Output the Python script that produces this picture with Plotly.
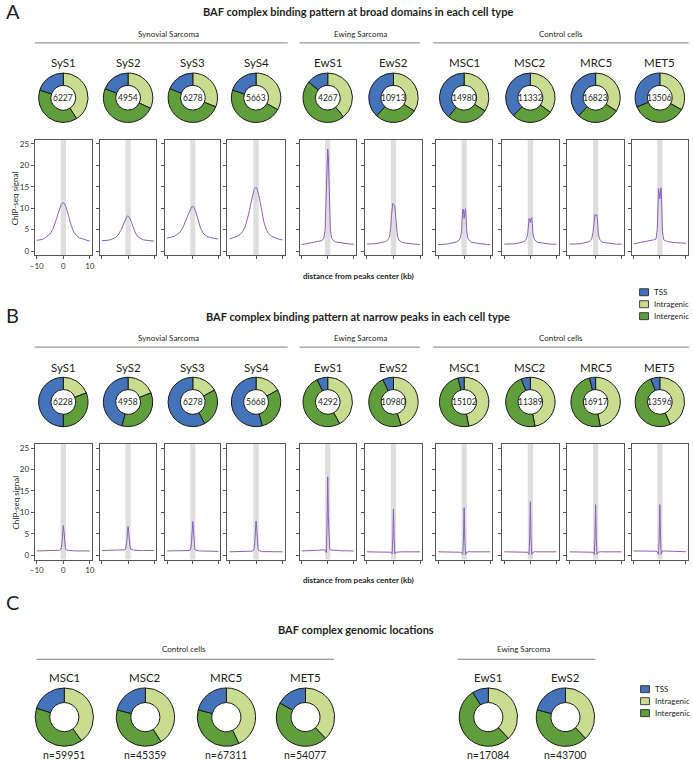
import plotly.graph_objects as go

W, H = 693, 762

# ---------------- data ----------------
cells = ["SyS1", "SyS2", "SyS3", "SyS4", "EwS1", "EwS2", "MSC1", "MSC2", "MRC5", "MET5"]
categories = ["Intragenic", "Intergenic", "TSS"]
legend_order = ["TSS", "Intragenic", "Intergenic"]

# A: broad domains
broad_counts = [6227, 4954, 6278, 5663, 4267, 10913, 14980, 11332, 16823, 13506]
broad_intragenic = [0.41, 0.32, 0.31, 0.33, 0.39, 0.34, 0.34, 0.35, 0.34, 0.33]
broad_intergenic = [0.39, 0.49, 0.50, 0.47, 0.47, 0.28, 0.27, 0.27, 0.28, 0.36]
broad_tss = [0.20, 0.19, 0.19, 0.20, 0.14, 0.38, 0.39, 0.38, 0.38, 0.31]

# B: narrow peaks
narrow_counts = [6228, 4958, 6278, 5668, 4292, 10980, 15102, 11389, 16917, 13596]
narrow_intragenic = [0.19, 0.19, 0.17, 0.17, 0.42, 0.45, 0.47, 0.47, 0.47, 0.43]
narrow_intergenic = [0.31, 0.35, 0.25, 0.29, 0.51, 0.48, 0.49, 0.47, 0.49, 0.51]
narrow_tss = [0.50, 0.46, 0.58, 0.54, 0.07, 0.07, 0.04, 0.06, 0.04, 0.06]

# C: genomic locations
genomic_cells = ["MSC1", "MSC2", "MRC5", "MET5", "EwS1", "EwS2"]
genomic_n = [59951, 45359, 67311, 54077, 17084, 43700]
genomic_intragenic = [0.40, 0.41, 0.43, 0.38, 0.38, 0.38]
genomic_intergenic = [0.40, 0.38, 0.36, 0.45, 0.53, 0.41]
genomic_tss = [0.20, 0.21, 0.21, 0.17, 0.09, 0.21]

# profiles (distance from peak center, kb)
distance_kb = [-10, -9, -8, -7, -6, -5, -4, -3, -2.5, -2, -1.5, -1, -0.75, -0.5, -0.25, 0,
               0.25, 0.5, 0.75, 1, 1.5, 2, 2.5, 3, 4, 5, 6, 7, 8, 9, 10]

broad_sys1 = [2.5, 2.6, 2.7, 3.0, 3.4, 4.0, 5.0, 6.6, 7.6, 8.7, 9.7, 10.5, 10.9, 11.1, 11.3, 11.3,
              11.2, 11.0, 10.7, 10.3, 9.4, 8.2, 7.0, 5.9, 4.4, 3.6, 3.1, 2.9, 2.7, 2.5, 2.3]
broad_sys2 = [2.4, 2.4, 2.5, 2.6, 2.8, 3.1, 3.6, 4.5, 5.1, 5.9, 6.7, 7.4, 7.7, 8.0, 8.2, 8.2,
              8.1, 7.9, 7.6, 7.2, 6.4, 5.5, 4.7, 4.0, 3.2, 2.8, 2.6, 2.5, 2.4, 2.3, 2.3]
broad_sys3 = [3.0, 3.1, 3.3, 3.5, 3.9, 4.4, 5.3, 6.7, 7.5, 8.4, 9.2, 9.8, 10.1, 10.3, 10.4, 10.4,
              10.3, 10.1, 9.8, 9.4, 8.5, 7.4, 6.3, 5.4, 4.2, 3.6, 3.3, 3.1, 3.0, 2.9, 2.8]
broad_sys4 = [2.8, 3.0, 3.2, 3.5, 3.9, 4.6, 5.8, 8.0, 9.4, 11.0, 12.6, 13.8, 14.3, 14.6, 14.9, 14.9,
              14.7, 14.3, 13.8, 13.1, 11.6, 9.8, 8.1, 6.6, 4.8, 3.9, 3.4, 3.1, 2.9, 2.7, 2.6]
broad_ews1 = [1.5, 1.6, 1.7, 1.8, 1.9, 2.0, 2.1, 2.3, 2.4, 2.6, 3.0, 5.0, 9.0, 15.0, 21.5, 23.8,
              22.0, 17.0, 10.0, 5.0, 3.0, 2.5, 2.3, 2.1, 2.0, 1.9, 1.8, 1.7, 1.7, 1.6, 1.6]
broad_ews2 = [1.6, 1.6, 1.7, 1.7, 1.8, 1.9, 2.0, 2.2, 2.4, 2.7, 3.3, 5.5, 8.5, 10.6, 11.1, 10.9,
              10.8, 10.4, 8.8, 6.0, 3.5, 2.6, 2.3, 2.1, 1.9, 1.8, 1.7, 1.7, 1.6, 1.6, 1.5]
broad_msc1 = [1.5, 1.5, 1.6, 1.6, 1.7, 1.8, 1.9, 2.1, 2.3, 2.5, 3.0, 4.5, 7.5, 9.8, 9.6, 7.6,
              9.6, 9.9, 7.8, 4.5, 2.9, 2.4, 2.2, 2.0, 1.9, 1.8, 1.7, 1.6, 1.6, 1.5, 1.5]
broad_msc2 = [1.6, 1.6, 1.6, 1.7, 1.7, 1.8, 1.9, 2.1, 2.2, 2.4, 2.9, 4.2, 6.2, 7.6, 7.2, 6.7,
              7.5, 7.8, 6.4, 4.0, 2.8, 2.3, 2.1, 2.0, 1.9, 1.8, 1.7, 1.7, 1.6, 1.6, 1.6]
broad_mrc5 = [1.6, 1.6, 1.6, 1.7, 1.7, 1.8, 1.9, 2.0, 2.2, 2.4, 2.9, 4.3, 6.5, 8.3, 8.5, 8.2,
              8.4, 8.5, 6.8, 4.2, 2.8, 2.3, 2.1, 2.0, 1.9, 1.8, 1.7, 1.7, 1.6, 1.6, 1.6]
broad_met5 = [1.7, 1.8, 1.9, 2.0, 2.1, 2.2, 2.3, 2.5, 2.6, 2.7, 2.8, 5.0, 10.0, 14.6, 13.5, 12.2,
              13.8, 14.8, 10.0, 4.5, 2.6, 2.4, 2.3, 2.2, 2.1, 2.0, 2.0, 1.9, 1.9, 1.8, 1.8]

narrow_sys1 = [1.0, 1.0, 1.0, 1.0, 1.0, 1.0, 1.0, 1.05, 1.1, 1.1, 1.15, 1.3, 1.8, 3.0, 5.5, 6.9,
               5.5, 3.0, 1.8, 1.3, 1.15, 1.1, 1.1, 1.05, 1.0, 1.0, 1.0, 1.0, 1.0, 1.0, 1.0]
narrow_sys2 = [1.1, 1.1, 1.1, 1.1, 1.1, 1.1, 1.1, 1.15, 1.2, 1.2, 1.25, 1.4, 1.9, 3.0, 5.3, 6.7,
               5.3, 3.0, 1.9, 1.4, 1.25, 1.2, 1.2, 1.15, 1.1, 1.1, 1.1, 1.1, 1.1, 1.1, 1.1]
narrow_sys3 = [1.0, 1.0, 1.0, 1.0, 1.0, 1.0, 1.0, 1.0, 1.05, 1.05, 1.1, 1.2, 1.6, 3.0, 6.0, 7.9,
               6.0, 3.0, 1.6, 1.2, 1.1, 1.05, 1.0, 1.0, 1.0, 0.95, 0.95, 0.9, 0.9, 0.9, 0.9]
narrow_sys4 = [0.8, 0.8, 0.8, 0.8, 0.8, 0.8, 0.8, 0.85, 0.85, 0.9, 0.95, 1.1, 1.5, 3.0, 6.2, 8.0,
               6.2, 3.0, 1.5, 1.1, 0.95, 0.9, 0.85, 0.85, 0.8, 0.8, 0.8, 0.8, 0.8, 0.8, 0.8]
narrow_ews1 = [1.0, 1.0, 1.05, 1.05, 1.1, 1.1, 1.15, 1.2, 1.25, 1.3, 1.3, 1.2, 0.8, 0.6, 8.0, 18.3,
               9.0, 1.8, 1.3, 1.25, 1.2, 1.2, 1.15, 1.1, 1.1, 1.05, 1.05, 1.0, 1.0, 1.0, 1.0]
narrow_ews2 = [0.8, 0.8, 0.8, 0.8, 0.8, 0.8, 0.8, 0.8, 0.8, 0.8, 0.75, 0.7, 0.5, 0.3, 4.0, 10.8,
               4.0, 0.3, 0.5, 0.7, 0.75, 0.8, 0.8, 0.8, 0.8, 0.8, 0.8, 0.8, 0.8, 0.8, 0.8]
narrow_msc1 = [0.8, 0.8, 0.8, 0.8, 0.8, 0.8, 0.8, 0.8, 0.8, 0.85, 0.8, 0.7, 0.4, 0.2, 4.0, 11.1,
               4.0, 0.2, 0.4, 0.7, 0.8, 0.85, 0.8, 0.8, 0.8, 0.8, 0.8, 0.8, 0.8, 0.8, 0.8]
narrow_msc2 = [0.8, 0.8, 0.8, 0.8, 0.8, 0.8, 0.8, 0.8, 0.8, 0.85, 0.8, 0.7, 0.4, 0.2, 4.5, 12.5,
               4.5, 0.2, 0.4, 0.7, 0.8, 0.85, 0.8, 0.8, 0.8, 0.8, 0.8, 0.8, 0.8, 0.8, 0.8]
narrow_mrc5 = [0.8, 0.8, 0.8, 0.8, 0.8, 0.8, 0.8, 0.8, 0.8, 0.85, 0.8, 0.7, 0.4, 0.2, 4.2, 11.8,
               4.2, 0.2, 0.4, 0.7, 0.8, 0.85, 0.8, 0.8, 0.8, 0.8, 0.8, 0.8, 0.8, 0.8, 0.8]
narrow_met5 = [1.0, 1.0, 1.0, 1.0, 1.0, 1.0, 1.0, 1.0, 1.0, 1.0, 0.95, 0.8, 0.4, 0.2, 4.2, 11.8,
               4.2, 0.2, 0.6, 1.0, 1.0, 1.0, 0.95, 0.95, 0.9, 0.9, 0.9, 0.85, 0.85, 0.85, 0.8]

broad_signals = [broad_sys1, broad_sys2, broad_sys3, broad_sys4, broad_ews1,
                 broad_ews2, broad_msc1, broad_msc2, broad_mrc5, broad_met5]
narrow_signals = [narrow_sys1, narrow_sys2, narrow_sys3, narrow_sys4, narrow_ews1,
                  narrow_ews2, narrow_msc1, narrow_msc2, narrow_mrc5, narrow_met5]

# ---------------- style ----------------
colors = {"TSS": "#4573b9", "Intragenic": "#c8dd8f", "Intergenic": "#5f9e3b"}
FONT = "Lato"
TXT = "#231f20"
GREY_LINE = "#7f7f7f"
FRAME = "#555555"
PURPLE = "#8c5fb9"

# pixel helpers -> paper coords
def xp(px):
    return px / W

def yp(py):
    return 1 - py / H

box_x = [(30, 88), (96, 153), (162, 218), (225, 283), (298, 355),
         (364, 422), (436, 493), (503, 560), (569, 626), (634, 691)]

fig = go.Figure()
annotations = []
shapes = []


def text(t, x, y, size, bold=False, color=TXT, angle=0, xanchor="center"):
    if bold:
        t = "<b>" + t + "</b>"
    annotations.append(dict(text=t, x=xp(x), y=yp(y), xref="paper", yref="paper",
                            showarrow=False, xanchor=xanchor, yanchor="middle",
                            textangle=angle, font=dict(family=FONT, size=size, color=color)))


def hline(x0, x1, y):
    shapes.append(dict(type="line", xref="paper", yref="paper", x0=xp(x0), x1=xp(x1),
                       y0=yp(y), y1=yp(y), line=dict(color=GREY_LINE, width=1)))


def donut(cx, cy, r, vals):
    fig.add_trace(go.Pie(values=vals, labels=categories, sort=False, direction="clockwise",
                         rotation=0, hole=0.5, textinfo="none", showlegend=False,
                         marker=dict(colors=[colors[c] for c in categories],
                                     line=dict(color="#1a1a1a", width=1)),
                         domain=dict(x=[xp(cx - r), xp(cx + r)], y=[yp(cy + r), yp(cy - r)])))


def legend(x, y):
    for k, lab in enumerate(legend_order):
        yy = y + 12 * k
        shapes.append(dict(type="rect", xref="paper", yref="paper", x0=xp(x), x1=xp(x + 9),
                           y0=yp(yy + 3.5), y1=yp(yy - 3.5), fillcolor=colors[lab],
                           line=dict(color="#1a1a1a", width=0.8)))
        text(lab, x + 13, yy, 8, xanchor="left")


layout_axes = {}


def panel(off, title, counts, intra, inter, tss, signals, ax0, letter):
    text(letter, 8, 10 + off, 20)
    text(title, 357, 11 + off, 11, bold=True)
    for lab, x0, x1, xc in [("Synovial Sarcoma", 30, 286, 165), ("Ewing Sarcoma", 298, 420, 360),
                            ("Control cells", 433, 692, 562)]:
        text(lab, xc, 33 + off, 8)
        hline(x0, x1, 42 + off)
    box_top, box_bot = 139 + off, 255 + off
    for i, cell in enumerate(cells):
        bx0, bx1 = box_x[i]
        cx = (bx0 + bx1) / 2
        text(cell, cx, 62 + off, 11.5)
        donut(cx, 97 + off, 25, [intra[i], inter[i], tss[i]])
        text(str(counts[i]), cx, 97 + off, 8.5)

        n = ax0 + i
        xr = "x" if n == 1 else f"x{n}"
        yr = "y" if n == 1 else f"y{n}"
        first = i == 0
        layout_axes["xaxis" if n == 1 else f"xaxis{n}"] = dict(
            domain=[xp(bx0), xp(bx1)], anchor=yr, range=[-10.8, 10.8], showline=True,
            mirror=True, linecolor=FRAME, linewidth=1, ticks="outside", ticklen=3,
            tickcolor=FRAME, tickvals=[-10, 0, 10], showticklabels=first, showgrid=False,
            zeroline=False, tickfont=dict(family=FONT, size=8, color="#333"))
        layout_axes["yaxis" if n == 1 else f"yaxis{n}"] = dict(
            domain=[yp(box_bot), yp(box_top)], anchor=xr, range=[-1, 26], showline=True,
            mirror=True, linecolor=FRAME, linewidth=1, ticks="outside", ticklen=3,
            tickcolor=FRAME, tickvals=[0, 5, 10, 15, 20, 25], showticklabels=first,
            showgrid=False, zeroline=False, tickfont=dict(family=FONT, size=8, color="#333"))
        shapes.append(dict(type="rect", xref=xr, yref=yr + " domain", x0=-1, x1=1, y0=0, y1=1,
                           fillcolor="#dedede", line=dict(width=0), layer="below"))
        fig.add_trace(go.Scatter(x=distance_kb, y=signals[i], mode="lines", xaxis=xr, yaxis=yr,
                                 line=dict(color=PURPLE, width=1), showlegend=False,
                                 hoverinfo="skip"))
    text("ChIP-seq signal", 11, 198 + off, 8, angle=-90)
    text("distance from peaks center (kb)", 358, 276 + off, 8, bold=True)


panel(0, "BAF complex binding pattern at broad domains in each cell type",
      broad_counts, broad_intragenic, broad_intergenic, broad_tss, broad_signals, 1, "A")
panel(305, "BAF complex binding pattern at narrow peaks in each cell type",
      narrow_counts, narrow_intragenic, narrow_intergenic, narrow_tss, narrow_signals, 11, "B")
legend(642, 292)

# ---------------- panel C ----------------
text("C", 8, 603, 20)
text("BAF complex genomic locations", 355, 630, 11, bold=True)
text("Control cells", 181, 650, 8)
hline(32, 333, 660)
text("Ewing Sarcoma", 525, 650, 8)
hline(458, 597, 660)
c_x = [60, 142, 224, 304, 489, 567]
for i, cell in enumerate(genomic_cells):
    text(cell, c_x[i], 678, 11.5)
    donut(c_x[i], 718, 29.5, [genomic_intragenic[i], genomic_intergenic[i], genomic_tss[i]])
    text(f"n={genomic_n[i]}", c_x[i], 756, 10.5)
legend(643, 690)

fig.update_layout(width=W, height=H, margin=dict(l=0, r=0, t=0, b=0),
                  paper_bgcolor="white", plot_bgcolor="white",
                  font=dict(family=FONT, color=TXT),
                  annotations=annotations, shapes=shapes, **layout_axes)

# page body has a default 8px margin; drop it so the figure fills the window
fig.write_html("out.html", config={"displayModeBar": False},
               post_script="document.body.style.margin='0';document.body.style.overflow='hidden';")
